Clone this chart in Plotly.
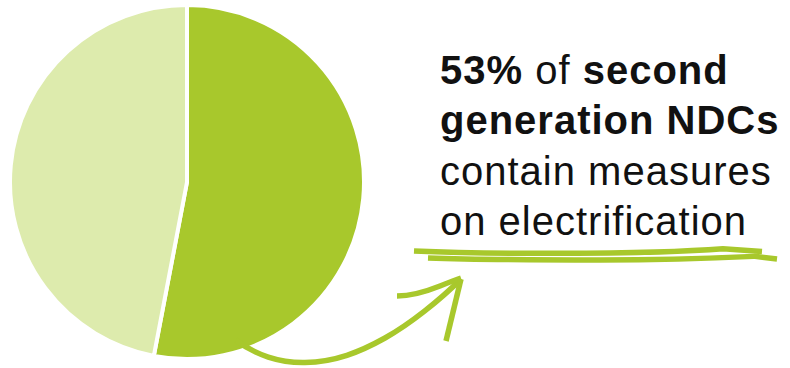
import plotly.graph_objects as go

labels = ["Contain measures on electrification", "Other second generation NDCs"]
values = [53, 47]
colors = ["#a8c82c", "#ddebad"]
text_lines = [
    "<b>53%</b> of <b>second</b>",
    "<b>generation NDCs</b>",
    "contain measures",
    "on electrification",
]

W, H = 790, 368
cx, cy, r = 187, 182, 177

fig = go.Figure()
fig.add_trace(go.Pie(
    labels=labels, values=values, sort=False, direction="clockwise", rotation=0,
    marker=dict(colors=colors, line=dict(color="white", width=4)),
    textinfo="none", hoverinfo="label+percent", showlegend=False,
    domain=dict(x=[(cx - r) / W, (cx + r) / W], y=[(H - cy - r) / H, (H - cy + r) / H]),
))

green = "#a8c82c"
paths = [
    "M 414 251 C 460 253, 500 253.5, 560 253.3 S 680 252, 723 248.7 L 762 251.5",
    "M 428 258 C 470 259.5, 520 260, 600 260 S 720 258, 755 256.3 L 777 259",
    "M 236 340 C 255 355, 280 363, 305 362.5 C 335 362, 360 352, 385 338 C 410 324, 440 300, 461 279",
    "M 397 296 C 410 296, 425 292, 440 286 S 455 280, 461 278",
    "M 461 279 L 446 341",
]
shapes = [dict(type="path", path=p, xref="x", yref="y",
               line=dict(color=green, width=5.5), layer="above") for p in paths]

baselines = [83.5, 134, 185, 235]
fs = 40
for line, b in zip(text_lines, baselines):
    fig.add_annotation(
        x=438, y=b - 14, xref="x", yref="y", xanchor="left", yanchor="middle",
        text='<span style="letter-spacing:1px">' + line + '</span>',
        showarrow=False, align="left",
        font=dict(family="Liberation Sans, Arial, sans-serif", size=fs, color="#111111"),
    )

fig.update_layout(
    width=W, height=H, margin=dict(l=0, r=0, t=0, b=0),
    paper_bgcolor="white", plot_bgcolor="rgba(0,0,0,0)",
    xaxis=dict(range=[0, W], visible=False, fixedrange=True),
    yaxis=dict(range=[H, 0], visible=False, fixedrange=True),
    shapes=shapes,
)
fig.write_html("out.html")
